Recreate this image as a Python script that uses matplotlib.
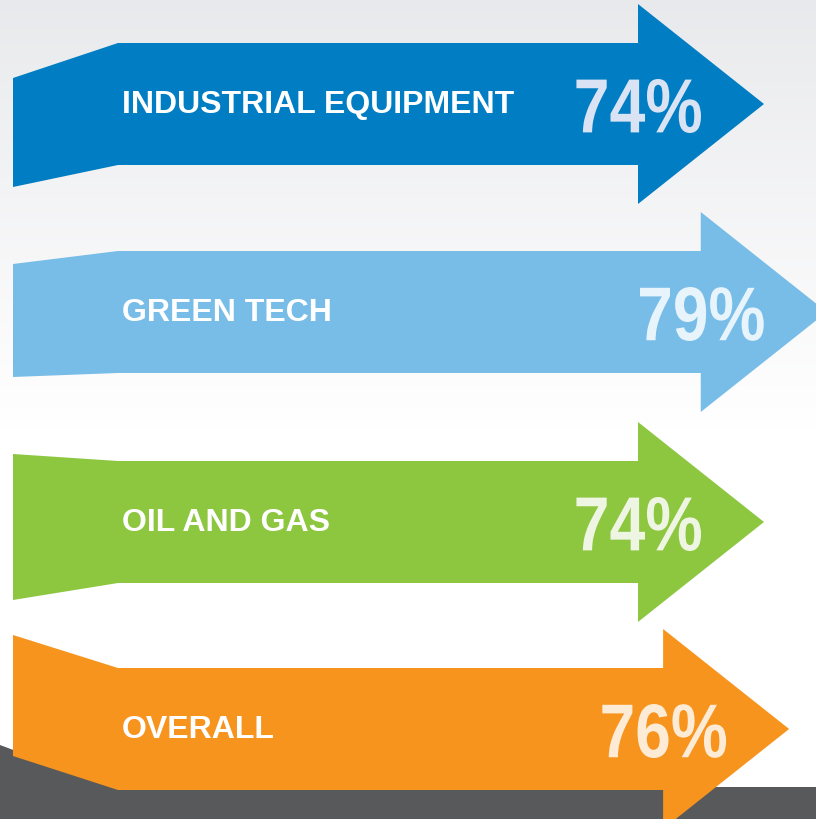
import numpy as np
import matplotlib
matplotlib.use("Agg")
import matplotlib.pyplot as plt
from matplotlib.patches import Polygon, PathPatch
from matplotlib.textpath import TextPath
from matplotlib.font_manager import FontProperties
from matplotlib.transforms import Affine2D, IdentityTransform

# data
categories = ["INDUSTRIAL EQUIPMENT", "GREEN TECH", "OIL AND GAS", "OVERALL"]
values = [74, 79, 74, 76]
labels = ["74%", "79%", "74%", "76%"]

# styles
arrow_colors = ["#007DC3", "#77BDE7", "#8DC63F", "#F7941E"]
pct_colors = ["#D9E3F3", "#E8F4FB", "#EEF5E2", "#FDEBD6"]
row_center = [104, 312, 522, 729]          # body centre (px from top)
tail_shift = [(35, 22), (13, 4), (-7, 17), (-33, -34)]  # tail top/bottom offsets

W, H = 816, 819
fig = plt.figure(figsize=(W / 100, H / 100), dpi=100)
ax = fig.add_axes([0, 0, 1, 1])

# x axis in percent units: 74% tip sits near 764 px, 12.55 px per point
px_per_pt = 12.55
x_lo = 74 - 764 / px_per_pt
x_hi = x_lo + W / px_per_pt
ax.set_xlim(x_lo, x_hi)
ax.set_ylim(H, 0)
ax.axis("off")

def px(p):
    return x_lo + p / px_per_pt

# background gradient
top = np.array([0.91, 0.914, 0.925])
rows = np.ones((H, 1, 3))
n = 430
rows[:n, 0, :] = top + (1 - top) * np.linspace(0, 1, n)[:, None] ** 0.9
ax.imshow(rows, extent=[x_lo, x_hi, H, 0], aspect="auto", zorder=0)

# dark band at bottom
ax.add_patch(Polygon([(px(0), 745), (px(112), 787), (px(W), 787), (px(W), H), (px(0), H)],
                     closed=True, color="#58595B", lw=0, zorder=1))

body_half = 61
head_half = 100
head_len = 126 / px_per_pt
tail_x = px(13)
joint_x = px(118)

# condensed bold numbers: squeeze a bold text path horizontally
bold = FontProperties(family="Liberation Sans", weight="bold")
cap_px = 54
squeeze = 0.84

def condensed_text(x, y, s, color):
    path = TextPath((0, 0), s, size=1, prop=bold)
    ext = path.get_extents()
    k = cap_px / ext.height
    xd, yd = ax.transData.transform((x, y))
    tr = (Affine2D().translate(-ext.x1, -(ext.y0 + ext.y1) / 2)
          .scale(k * squeeze, k).translate(xd, yd))
    ax.add_artist(PathPatch(tr.transform_path(path), color=color, lw=0,
                            transform=IdentityTransform(), zorder=3))

for i, (cat, v, lab) in enumerate(zip(categories, values, labels)):
    c = row_center[i]
    bt, bb = c - body_half, c + body_half
    tt, tb = bt + tail_shift[i][0], bb + tail_shift[i][1]
    base = v - head_len
    pts = [(tail_x, tt), (joint_x, bt), (base, bt), (base, c - head_half),
           (v, c), (base, c + head_half), (base, bb), (joint_x, bb), (tail_x, tb)]
    ax.add_patch(Polygon(pts, closed=True, color=arrow_colors[i], lw=0, zorder=2))
    ax.text(px(122), c + 1, cat, color="white", fontsize=23, fontweight="bold",
            family=["Liberation Sans", "DejaVu Sans"], va="center", ha="left", zorder=3)
    condensed_text(v - 63 / px_per_pt, c + 2, lab, pct_colors[i])

fig.savefig("out.png", dpi=100)
